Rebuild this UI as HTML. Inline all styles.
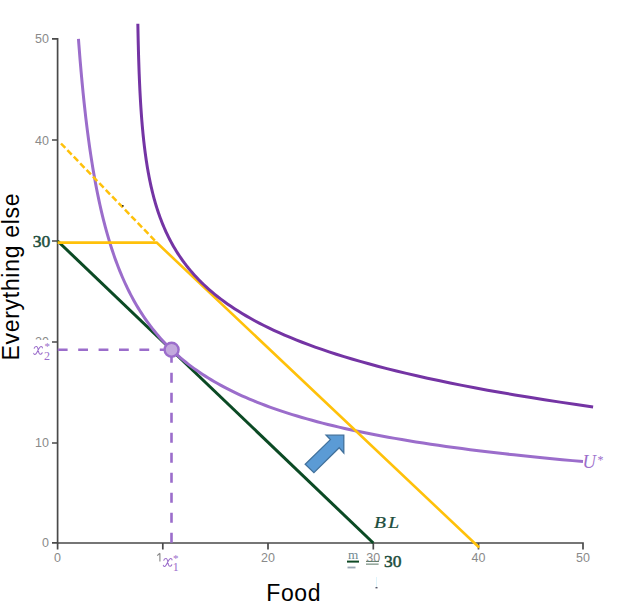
<!DOCTYPE html>
<html><head><meta charset="utf-8">
<style>
html,body{margin:0;padding:0;background:#fff;width:618px;height:612px;overflow:hidden}
svg{position:absolute;left:0;top:0}
.tk{font-family:"Liberation Sans",sans-serif;font-size:12.5px;fill:#8a8a8a}
.big{font-family:"Liberation Sans",sans-serif;font-size:23px;fill:#000}
.m{font-family:"Liberation Serif",serif;font-style:italic}
</style></head><body>
<svg width="618" height="612" viewBox="0 0 618 612">
<!-- axes -->
<g fill="none" stroke="#4a4a4a" stroke-width="1.7">
<path d="M52,38.8H57.6V542.8H52"/>
<path d="M57.6,549.5V543H583V549.5"/>
<path d="M52,140H57.6M52,241H57.6M52,342H57.6M52,443H57.6"/>
<path d="M162.8,543V549.5M268,543V549.5M373.3,543V549.5M478.5,543V549.5"/>
</g>
<g class="tk" text-anchor="end">
<text x="49" y="43.3">50</text>
<text x="49" y="144.5">40</text>
<text x="49" y="346">20</text>
<text x="49" y="447">10</text>
<text x="49" y="547.3">0</text>
</g>
<g class="tk" text-anchor="middle">
<text x="57.6" y="561.7">0</text>

<text x="268" y="561.7">20</text>
<text x="373.3" y="561.7">30</text>
<text x="478.5" y="561.7">40</text>
<text x="583" y="561.7">50</text>
</g>
<path d="M159.9,553.2V561.6M157.2,555.6L159.9,553.2" stroke="#8a8a8a" stroke-width="1.15" fill="none"/>
<!-- axis titles -->
<text class="big" x="266.3" y="601" letter-spacing="0.6">Food</text>
<text class="big" transform="translate(18.7,360.5) rotate(-90)" letter-spacing="0.7">Everything else</text>

<!-- green BL -->
<path d="M57.6,241L373.3,543" stroke="#0b4a24" stroke-width="3" fill="none"/>
<!-- light -->
<path d="M78.45,38.80 L78.88,44.52 L79.32,50.17 L79.76,55.76 L80.21,61.28 L80.67,66.74 L81.15,72.14 L81.63,77.48 L82.12,82.76 L82.62,87.98 L83.13,93.14 L83.65,98.24 L84.18,103.28 L84.73,108.27 L85.28,113.19 L85.84,118.07 L86.42,122.89 L87.01,127.65 L87.61,132.36 L88.22,137.01 L88.85,141.62 L89.48,146.17 L90.14,150.67 L90.80,155.11 L91.48,159.51 L92.17,163.86 L92.87,168.16 L93.59,172.41 L94.33,176.61 L95.08,180.76 L95.84,184.87 L96.62,188.93 L97.42,192.94 L98.23,196.91 L99.06,200.83 L99.90,204.71 L100.76,208.55 L101.64,212.34 L102.54,216.09 L103.46,219.79 L104.39,223.46 L105.35,227.08 L106.32,230.66 L107.31,234.20 L108.33,237.70 L109.36,241.16 L110.42,244.58 L111.49,247.97 L112.59,251.31 L113.71,254.62 L114.85,257.89 L116.02,261.12 L117.21,264.31 L118.43,267.47 L119.66,270.60 L120.93,273.68 L122.22,276.74 L123.54,279.75 L124.88,282.74 L126.25,285.69 L127.65,288.60 L129.08,291.49 L130.53,294.34 L132.02,297.16 L133.53,299.94 L135.08,302.70 L136.66,305.42 L138.27,308.11 L139.91,310.78 L141.59,313.41 L143.30,316.01 L145.04,318.58 L146.82,321.12 L148.64,323.64 L150.49,326.13 L152.39,328.58 L154.32,331.01 L156.29,333.42 L158.29,335.79 L160.34,338.14 L162.44,340.46 L164.57,342.76 L166.75,345.02 L168.97,347.27 L171.24,349.49 L173.55,351.68 L175.91,353.85 L178.32,355.99 L180.78,358.11 L183.29,360.20 L185.85,362.27 L188.46,364.32 L191.12,366.35 L193.84,368.35 L196.61,370.33 L199.44,372.28 L202.33,374.22 L205.28,376.13 L208.28,378.02 L211.35,379.89 L214.48,381.74 L217.67,383.56 L220.93,385.37 L224.25,387.16 L227.65,388.92 L231.11,390.67 L234.64,392.39 L238.24,394.10 L241.92,395.79 L245.67,397.45 L249.50,399.10 L253.40,400.73 L257.39,402.34 L261.45,403.94 L265.60,405.51 L269.84,407.07 L274.15,408.61 L278.56,410.13 L283.06,411.64 L287.65,413.12 L292.33,414.59 L297.11,416.05 L301.98,417.49 L306.95,418.91 L312.03,420.31 L317.20,421.70 L322.49,423.08 L327.88,424.43 L333.38,425.78 L338.99,427.10 L344.71,428.42 L350.56,429.71 L356.52,431.00 L362.60,432.26 L368.81,433.52 L375.14,434.76 L381.60,435.98 L388.19,437.20 L394.92,438.39 L401.78,439.58 L408.79,440.75 L415.93,441.91 L423.22,443.05 L430.66,444.18 L438.25,445.30 L446.00,446.41 L453.90,447.50 L461.96,448.58 L470.19,449.65 L478.59,450.71 L487.15,451.75 L495.89,452.78 L504.81,453.80 L513.91,454.81 L523.19,455.81 L532.67,456.80 L542.33,457.77 L552.19,458.74 L562.26,459.69 L572.52,460.63 L583.00,461.57" stroke="#9b6dcb" stroke-width="3" fill="none"/>
<!-- yellow -->
<path d="M61,143.5L156.7,242.5" stroke="#ffc10a" stroke-width="2.5" fill="none" stroke-dasharray="6.2,3"/>
<path d="M57.6,242.6H156.7L479.2,547.5" stroke="#ffc10a" stroke-width="2.6" fill="none"/>
<!-- curves -->
<path d="M137.85,23.68 L137.89,26.08 L137.94,28.47 L137.98,30.87 L138.03,33.26 L138.08,35.66 L138.13,38.05 L138.18,40.45 L138.24,42.84 L138.30,45.24 L138.36,47.63 L138.42,50.03 L138.49,52.42 L138.55,54.82 L138.62,57.21 L138.69,59.61 L138.77,62.00 L138.85,64.40 L138.93,66.79 L139.01,69.19 L139.10,71.59 L139.19,73.98 L139.29,76.38 L139.38,78.77 L139.48,81.17 L139.59,83.56 L139.70,85.96 L139.81,88.35 L139.93,90.75 L140.05,93.14 L140.18,95.54 L140.31,97.93 L140.45,100.33 L140.59,102.72 L140.74,105.12 L140.89,107.51 L141.05,109.91 L141.22,112.30 L141.39,114.70 L141.57,117.09 L141.75,119.49 L141.95,121.89 L142.15,124.28 L142.35,126.68 L142.57,129.07 L142.79,131.47 L143.02,133.86 L143.26,136.26 L143.51,138.65 L143.77,141.05 L144.04,143.44 L144.32,145.84 L144.62,148.23 L144.92,150.63 L145.23,153.02 L145.56,155.42 L145.89,157.81 L146.24,160.21 L146.61,162.60 L146.99,165.00 L147.38,167.40 L147.79,169.79 L148.21,172.19 L148.65,174.58 L149.11,176.98 L149.58,179.37 L150.07,181.77 L150.58,184.16 L151.11,186.56 L151.67,188.95 L152.24,191.35 L152.83,193.74 L153.45,196.14 L154.09,198.53 L154.75,200.93 L155.44,203.32 L156.16,205.72 L156.90,208.11 L157.67,210.51 L158.48,212.91 L159.31,215.30 L160.17,217.70 L161.07,220.09 L162.00,222.49 L162.97,224.88 L163.98,227.28 L165.02,229.67 L166.10,232.07 L167.23,234.46 L168.40,236.86 L169.61,239.25 L170.87,241.65 L172.17,244.04 L173.53,246.44 L174.94,248.83 L176.40,251.23 L177.92,253.62 L179.50,256.02 L181.14,258.41 L182.84,260.81 L184.60,263.21 L186.44,265.60 L188.34,268.00 L190.32,270.39 L192.37,272.79 L194.50,275.18 L196.71,277.58 L199.01,279.97 L201.39,282.37 L203.87,284.76 L206.44,287.16 L209.11,289.55 L211.88,291.95 L214.76,294.34 L217.75,296.74 L220.85,299.13 L224.07,301.53 L227.42,303.92 L230.89,306.32 L234.50,308.72 L238.24,311.11 L242.13,313.51 L246.16,315.90 L250.35,318.30 L254.70,320.69 L259.22,323.09 L263.91,325.48 L268.78,327.88 L273.84,330.27 L279.09,332.67 L284.54,335.06 L290.20,337.46 L296.08,339.85 L302.18,342.25 L308.52,344.64 L315.09,347.04 L321.93,349.43 L329.02,351.83 L336.38,354.22 L344.03,356.62 L351.96,359.02 L360.21,361.41 L368.76,363.81 L377.65,366.20 L386.87,368.60 L396.45,370.99 L406.40,373.39 L416.73,375.78 L427.45,378.18 L438.58,380.57 L450.14,382.97 L462.14,385.36 L474.60,387.76 L487.54,390.15 L500.98,392.55 L514.92,394.94 L529.41,397.34 L544.44,399.73 L560.06,402.13 L576.27,404.53 L593.10,406.92" stroke="#7434a4" stroke-width="3" fill="none"/>
<!-- dashed guides -->
<path d="M171.5,542.8V349.6" stroke="#9b6dcb" stroke-width="2.6" fill="none" stroke-dasharray="10,10"/>
<path d="M57.8,349.7H171.5" stroke="#9b6dcb" stroke-width="2.6" fill="none" stroke-dasharray="9.8,10.6"/>
<circle cx="171.6" cy="349.7" r="7" fill="#c3a9dd" stroke="#9b6dcb" stroke-width="2.4"/>

<!-- arrow -->
<path d="M343.8,435.2L343.8,453L339.2,447.8L313.9,472.6L305.2,464.3L330.4,439.6L326.1,435.2Z" fill="#5b9bd5" stroke="#41719c" stroke-width="1.3"/>

<!-- labels -->
<rect x="33" y="340" width="17" height="22" fill="#fff"/>
<path transform="translate(-129.6,-212)" d="M163.8,560.2Q164.6,558.4 166.2,558.6Q167.2,558.9 167.6,561L168.4,564.6Q168.9,566.5 170.3,566.3Q171.3,566.1 171.8,564.8M172,559.9Q171.9,558.5 170.6,558.6Q169.6,558.8 168.6,560.6L166.3,564.8Q165.4,566.6 164.2,566.4Q163.3,566.2 163.3,565.3" stroke="#9b6dcb" stroke-width="1.05" fill="none" stroke-linecap="round"/>
<text x="44" y="360" font-family="Liberation Serif,serif" font-size="12" fill="#9b6dcb">2</text>
<text x="44.5" y="350" font-family="Liberation Serif,serif" font-size="11" fill="#9b6dcb">*</text>

<rect x="163" y="552" width="17" height="22" fill="#fff"/>
<path transform="translate(0,0)" d="M163.8,560.2Q164.6,558.4 166.2,558.6Q167.2,558.9 167.6,561L168.4,564.6Q168.9,566.5 170.3,566.3Q171.3,566.1 171.8,564.8M172,559.9Q171.9,558.5 170.6,558.6Q169.6,558.8 168.6,560.6L166.3,564.8Q165.4,566.6 164.2,566.4Q163.3,566.2 163.3,565.3" stroke="#9b6dcb" stroke-width="1.05" fill="none" stroke-linecap="round"/>
<text x="172.7" y="571" font-family="Liberation Serif,serif" font-size="12" fill="#9b6dcb">1</text>
<text x="173" y="562" font-family="Liberation Serif,serif" font-size="11" fill="#9b6dcb">*</text>

<text class="m" font-size="17.5" fill="#1d4d3c" letter-spacing="2" stroke="#1d4d3c" stroke-width="0.25" transform="translate(374,528) scale(1.12,1)">BL</text>
<text class="m" x="582.5" y="467.5" font-size="18.5" fill="#9b6dcb">U</text>
<text x="597.5" y="463.5" font-family="Liberation Serif,serif" font-size="12" fill="#9b6dcb">*</text>

<rect x="30" y="233" width="21" height="15" fill="#fff"/>
<text x="32.8" y="247" font-family="Liberation Serif,serif" font-size="17.5" fill="#1d4d3c" stroke="#1d4d3c" stroke-width="0.5">30</text>

<!-- m/p = 30 label -->
<text font-family="Liberation Serif,serif" font-size="11.5" fill="#6f8890" transform="translate(347.9,558.8) scale(1.15,1)">m</text>
<rect x="347" y="560.6" width="12" height="2" fill="#0f4a25"/>
<rect x="347.5" y="566.6" width="8" height="1.8" fill="#9aa8b4"/>
<rect x="366" y="560.9" width="13" height="1" fill="#5d7868"/>
<rect x="366" y="563.5" width="12.6" height="1.3" fill="#7f9688"/>
<text x="384" y="566.5" font-family="Liberation Serif,serif" font-size="17.5" fill="#1d4d3c" stroke="#1d4d3c" stroke-width="0.5">30</text>
<rect x="376" y="577" width="1" height="11" fill="#dff4fb"/>
<rect x="375.5" y="587" width="2" height="1.4" fill="#556"/>
<rect x="122" y="205" width="1.6" height="1.6" fill="#333"/>
</svg>
</body></html>
